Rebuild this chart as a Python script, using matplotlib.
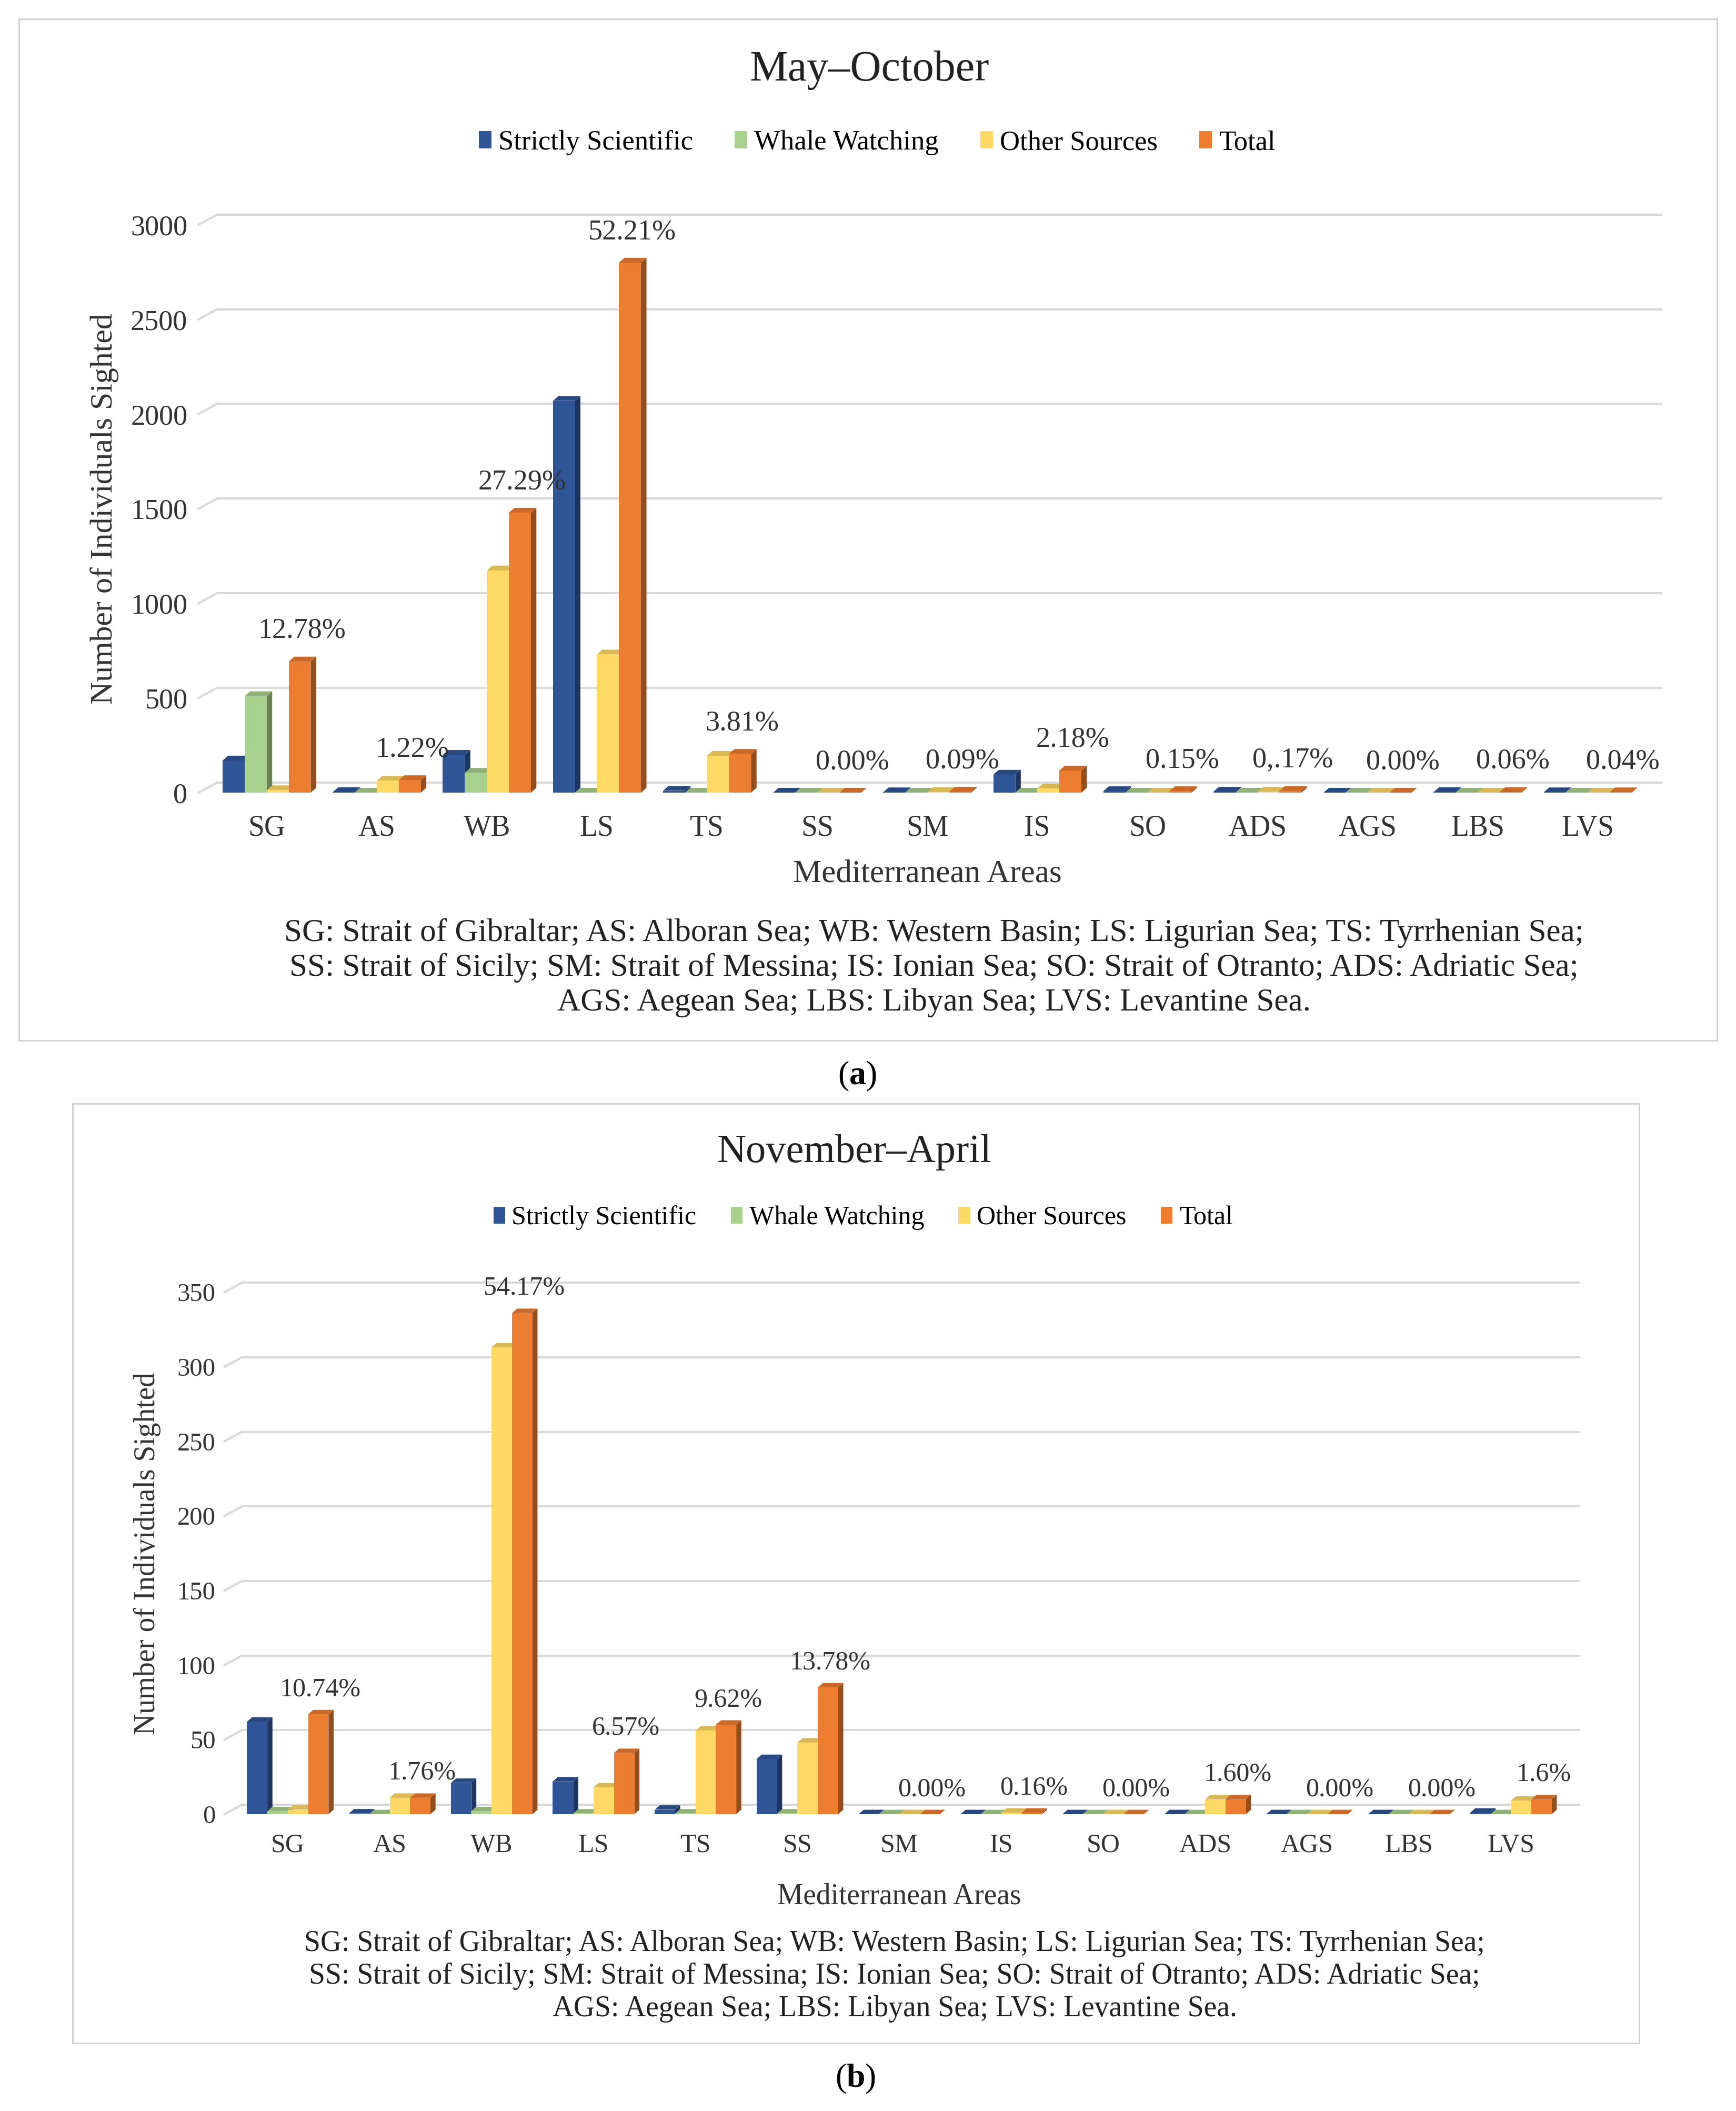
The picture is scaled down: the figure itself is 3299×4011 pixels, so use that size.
import matplotlib
matplotlib.use("Agg")
import matplotlib.pyplot as plt
import numpy as np
from matplotlib.patches import Patch, Polygon, Rectangle
from matplotlib.colors import to_rgb

plt.rcParams['font.family'] = 'serif'
plt.rcParams['font.serif'] = ['Liberation Serif', 'DejaVu Serif']
plt.rcParams['mathtext.fontset'] = 'custom'
plt.rcParams['mathtext.rm'] = 'Liberation Serif'
plt.rcParams['mathtext.bf'] = 'Liberation Serif:bold'
SERIF = 'Liberation Serif'

areas = ['SG', 'AS', 'WB', 'LS', 'TS', 'SS', 'SM', 'IS', 'SO', 'ADS', 'AGS', 'LBS', 'LVS']
series = ['Strictly Scientific', 'Whale Watching', 'Other Sources', 'Total']
colors = ['#2F5597', '#A9D18E', '#FFD966', '#ED7D31']

# May-October
summer_scientific = [170, 3, 200, 2070, 10, 0, 2, 95, 8, 5, 0, 3, 2]
summer_whale = [510, 0, 105, 0, 0, 0, 0, 0, 0, 0, 0, 0, 0]
summer_other = [13, 63, 1174, 730, 195, 0, 3, 22, 0, 4, 0, 0, 0]
summer_total = [693, 66, 1479, 2800, 205, 0, 5, 117, 8, 9, 0, 3, 2]
summer_pct = ['12.78%', '1.22%', '27.29%', '52.21%', '3.81%', '0.00%', '0.09%',
              '2.18%', '0.15%', '0,.17%', '0.00%', '0.06%', '0.04%']
summer_ticks = [0, 500, 1000, 1500, 2000, 2500, 3000]

# November-April
winter_scientific = [62, 0.5, 21, 22, 3, 37, 0, 0, 0, 0, 0, 0, 1]
winter_whale = [2, 0, 2, 0.5, 0.5, 0.5, 0, 0, 0, 0, 0, 0, 0]
winter_other = [3, 11, 313, 18, 56, 48, 0, 1, 0, 10, 0, 0, 9]
winter_total = [67, 11, 336, 41, 60, 85, 0, 1, 0, 10, 0, 0, 10]
winter_pct = ['10.74%', '1.76%', '54.17%', '6.57%', '9.62%', '13.78%', '0.00%',
              '0.16%', '0.00%', '1.60%', '0.00%', '0.00%', '1.6%']
winter_ticks = [0, 50, 100, 150, 200, 250, 300, 350]

footnote = ("SG: Strait of Gibraltar; AS: Alboran Sea; WB: Western Basin; LS: Ligurian Sea; TS: Tyrrhenian Sea;\n"
            "SS: Strait of Sicily; SM: Strait of Messina; IS: Ionian Sea; SO: Strait of Otranto; ADS: Adriatic Sea;\n"
            "AGS: Aegean Sea; LBS: Libyan Sea; LVS: Levantine Sea.")

W, H = 3299, 4011
fig = plt.figure(figsize=(W / 100, H / 100), dpi=100)


def shade(c, f):
    r, g, b = to_rgb(c)
    return (r * f, g * f, b * f)


def draw_panel(ax, data, pct, ticks, fs_tick, fs_pct, tick_pad, pct_off):
    ymax = ticks[-1]
    n = len(areas)
    x = np.arange(n)
    width = 0.2
    dx = 0.05
    dy = 0.0085 * ymax
    wall_dx, wall_dy = 0.17, 0.018 * ymax
    ax.set_xlim(-0.5, n - 0.5)
    ax.set_ylim(0, ymax)

    # back wall gridlines with the little floor diagonal
    for t in ticks:
        ax.plot([-0.5 - 0.12, -0.5 - 0.12 + wall_dx], [t, t + wall_dy], color='#d9d9d9', lw=3,
                clip_on=False, zorder=0)
        ax.plot([-0.5 - 0.12 + wall_dx, n - 0.5 + 0.17], [t + wall_dy, t + wall_dy], color='#d9d9d9',
                lw=3, clip_on=False, zorder=0)

    z = 2
    for i in range(n):
        for k, vals in enumerate(data):
            b = ax.bar(x[i] + (k - 1.5) * width, vals[i], width, color=colors[k], zorder=z,
                       linewidth=0)[0]
            x0, w, h = b.get_x(), b.get_width(), b.get_height()
            side = Polygon([(x0 + w, 0), (x0 + w + dx, dy), (x0 + w + dx, h + dy), (x0 + w, h)],
                           closed=True, facecolor=shade(colors[k], 0.62), lw=0, zorder=z - 0.5)
            top = Polygon([(x0, h), (x0 + dx, h + dy), (x0 + w + dx, h + dy), (x0 + w, h)],
                          closed=True, facecolor=shade(colors[k], 0.85), lw=0, zorder=z - 0.5)
            ax.add_patch(side)
            ax.add_patch(top)
            z += 1
        ax.annotate(pct[i], (x[i] + 0.32, data[3][i]), xytext=(0, pct_off), textcoords='offset points',
                    ha='center', va='center', fontsize=fs_pct, color='#333333', zorder=200,
                    family=SERIF)

    ax.set_yticks(ticks)
    ax.set_xticks(x)
    ax.set_yticklabels([str(t) for t in ticks], family=SERIF)
    ax.set_xticklabels(areas, family=SERIF)
    ax.tick_params(axis='y', length=0, pad=tick_pad, labelsize=fs_tick, labelcolor='#333333')
    ax.tick_params(axis='x', length=0, pad=tick_pad * 0.9, labelsize=fs_tick + 1, labelcolor='#333333')
    for s in ax.spines.values():
        s.set_visible(False)
    ax.patch.set_alpha(0)


handles = [Patch(facecolor=c, label=s) for c, s in zip(colors, series)]

# panel (a)
fig.add_artist(Rectangle((36 / W, 1 - 1977 / H), (3263 - 36) / W, (1977 - 36) / H,
                         transform=fig.transFigure, fill=False, edgecolor='#d0d0d0', lw=2))
ax1 = fig.add_axes([0.1219, 0.6245, 0.8244, 0.2690])
draw_panel(ax1, [summer_scientific, summer_whale, summer_other, summer_total], summer_pct,
           summer_ticks, 39, 39, 33, 42)
ax1.set_ylabel('Number of Individuals Sighted', fontsize=43, color='#333333', labelpad=16, family=SERIF)
ax1.set_xlabel('Mediterranean Areas', fontsize=44, color='#333333', labelpad=24, family=SERIF)
fig.text(1652 / W, 1 - 133 / H, 'May–October', ha='center', va='center', fontsize=59, color='#222222',
         family=SERIF)
fig.legend(handles=handles, loc='center', bbox_to_anchor=(1667 / W, 1 - 271 / H), ncol=4,
           frameon=False, prop={'family': SERIF, 'size': 38}, handlelength=0.45, handleheight=0.6,
           handletextpad=0.25, columnspacing=1.5)
fig.text(1775 / W, 1 - 1839 / H, footnote, ha='center', va='center', fontsize=44, color='#222222',
         linespacing=1.22, family=SERIF)
fig.text(1629 / W, 1 - 2045 / H, r'($\mathbf{a}$)', ha='center', va='center', fontsize=46, color='black')

# panel (b)
fig.add_artist(Rectangle((138 / W, 1 - 3882 / H), (3115 - 138) / W, (3882 - 2097) / H,
                         transform=fig.transFigure, fill=False, edgecolor='#d0d0d0', lw=2))
ax2 = fig.add_axes([0.1364, 0.1406, 0.7633, 0.2473])
draw_panel(ax2, [winter_scientific, winter_whale, winter_other, winter_total], winter_pct,
           winter_ticks, 35, 36, 29, 34)
ax2.set_ylabel('Number of Individuals Sighted', fontsize=40, color='#333333', labelpad=22, family=SERIF)
ax2.set_xlabel('Mediterranean Areas', fontsize=40, color='#333333', labelpad=34, family=SERIF)
fig.text(1624 / W, 1 - 2189 / H, 'November–April', ha='center', va='center', fontsize=55, color='#222222',
         family=SERIF)
fig.legend(handles=handles, loc='center', bbox_to_anchor=(1640 / W, 1 - 2314 / H), ncol=4,
           frameon=False, prop={'family': SERIF, 'size': 36}, handlelength=0.45, handleheight=0.6,
           handletextpad=0.25, columnspacing=1.3)
fig.text(1700 / W, 1 - 3755 / H, footnote, ha='center', va='center', fontsize=40, color='#222222',
         linespacing=1.25, family=SERIF)
fig.text(1626 / W, 1 - 3950 / H, r'($\mathbf{b}$)', ha='center', va='center', fontsize=46, color='black')

fig.savefig('out.png', dpi=100, facecolor='white')
